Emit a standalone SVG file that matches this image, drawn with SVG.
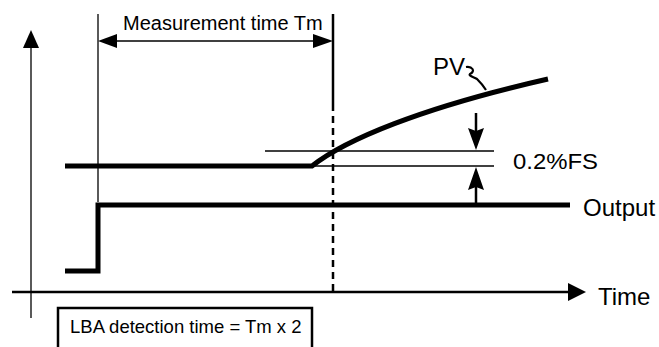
<svg xmlns="http://www.w3.org/2000/svg" width="659" height="347" viewBox="0 0 659 347">
<style>
text{font-family:"Liberation Sans",Arial,sans-serif;fill:#000}
.thin{stroke:#000;stroke-width:1.3;fill:none}
.med{stroke:#000;stroke-width:2.5;fill:none}
.thick{stroke:#000;stroke-width:5;fill:none}
.ah{fill:#000;stroke:none}
</style>
<rect width="659" height="347" fill="#fff"/>
<g id="axes">
<line class="thin" x1="31" y1="44" x2="31" y2="318"/>
<polygon class="ah" points="31,30 23,48 39,48"/>
<line class="med" x1="12" y1="292" x2="572" y2="292"/>
<polygon class="ah" points="586,292 568,283 568,301"/>
<text x="598" y="305" font-size="24">Time</text>
</g>
<g id="connectors">
<line class="thin" x1="98" y1="14" x2="98" y2="202"/>
<line class="med" x1="333" y1="14" x2="333" y2="104"/>
<line x1="333" y1="104" x2="333" y2="292" stroke="#000" stroke-width="2.5" stroke-dasharray="7,5"/>
<line class="thin" x1="112" y1="41" x2="318" y2="41"/>
<polygon class="ah" points="98,41 117,34 117,48"/>
<polygon class="ah" points="333,41 313,34 313,48"/>
<text x="123" y="30" font-size="20">Measurement time Tm</text>
</g>
<g id="pv">
<path class="thick" d="M65,166 L312,166 C345,140 420,108 548,79" stroke-linejoin="round"/>
<text x="433" y="75" font-size="24">PV</text>
<path d="M466,67 C472,66 476,71 470,74 C468,76 474,77 477,79 C480,82 483,85 486,90" stroke="#000" stroke-width="2.2" fill="none"/>
</g>
<g id="fs">
<line class="thin" x1="265" y1="151" x2="494" y2="151"/>
<line class="thin" x1="312" y1="166" x2="494" y2="166"/>
<line class="med" x1="476" y1="113" x2="476" y2="135"/>
<polygon class="ah" points="476,150 468,128 476,131 484,128"/>
<line class="med" x1="476" y1="185" x2="476" y2="205"/>
<polygon class="ah" points="476,167 468,190 476,187 484,190"/>
<text x="513" y="169" font-size="22" textLength="85" lengthAdjust="spacingAndGlyphs">0.2%FS</text>
</g>
<g id="output">
<path class="thick" d="M65,271 L98,271 L98,205 L570,205" stroke-width="3.5" stroke-linejoin="miter"/>
<text x="583" y="216" font-size="24">Output</text>
</g>
<g id="lba">
<rect x="58" y="308" width="254" height="45" fill="#fff" stroke="#000" stroke-width="2.5"/>
<text x="70" y="333" font-size="18.5">LBA detection time = Tm x 2</text>
</g>
</svg>
